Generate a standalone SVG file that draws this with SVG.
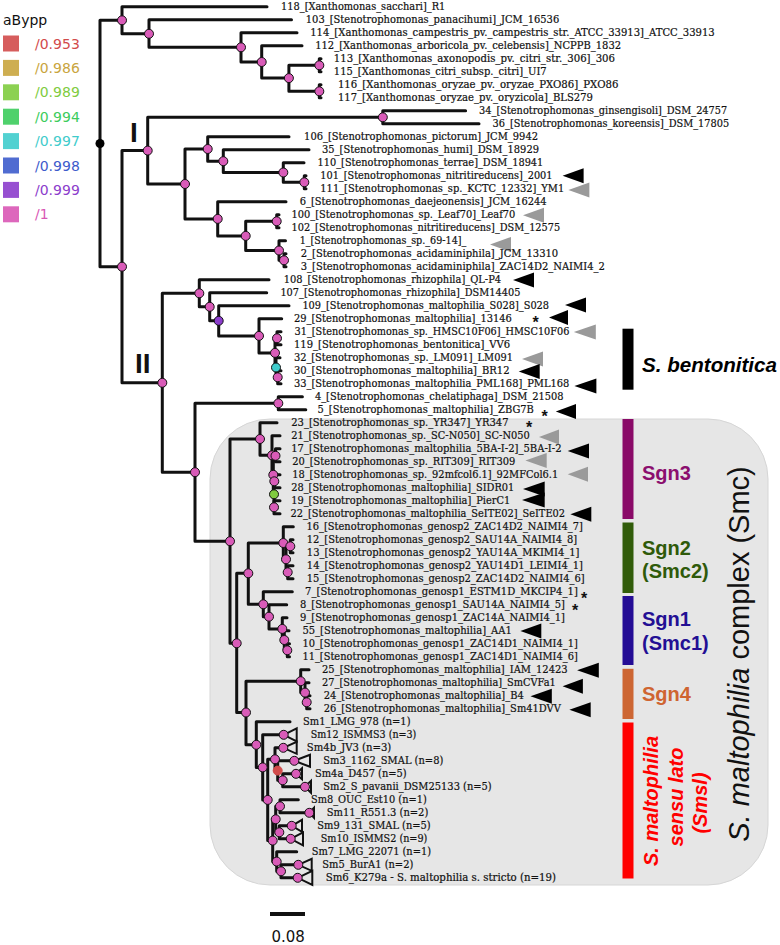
<svg xmlns="http://www.w3.org/2000/svg" width="780" height="945" viewBox="0 0 780 945">
<style>
.br{fill:none;stroke:#111;stroke-width:3;stroke-linejoin:round;stroke-linecap:round}
.n{fill:#d95bb8;stroke:#111;stroke-width:1}
.lb{font-family:"DejaVu Serif",serif;font-size:10.3px;fill:#111;stroke:#111;stroke-width:0.2}
.ab{fill:#000}
.ag{fill:#9a9a9a}
.cl{fill:none;stroke:#111;stroke-width:2}
.st{font-family:"Liberation Sans",Arial,sans-serif;font-weight:bold;font-size:16px;text-anchor:middle;fill:#111}
.lg{font-family:"DejaVu Sans",sans-serif;font-size:14px}
.sg{font-family:"Liberation Sans",Arial,sans-serif;font-weight:bold;font-size:20px}
</style>
<rect width="780" height="945" fill="#fff"/>
<rect id="smc-box" x="210" y="419" width="558" height="466" rx="60" ry="60" fill="#e6e6e6" stroke="#d6d6d6" stroke-width="1"/>

<g id="legend">
<text class="lg" x="3" y="25" fill="#111">aBypp</text>
<rect x="3" y="35.5" width="16" height="16" fill="#d24b4b" fill-opacity="0.9"/><text class="lg" x="35" y="48.5" fill="#d24b4b">/0.953</text>
<rect x="3" y="59.9" width="16" height="16" fill="#c9a53e" fill-opacity="0.9"/><text class="lg" x="35" y="72.9" fill="#c9a53e">/0.986</text>
<rect x="3" y="84.3" width="16" height="16" fill="#80cc3f" fill-opacity="0.9"/><text class="lg" x="35" y="97.3" fill="#80cc3f">/0.989</text>
<rect x="3" y="108.7" width="16" height="16" fill="#3ccc5c" fill-opacity="0.9"/><text class="lg" x="35" y="121.7" fill="#3ccc5c">/0.994</text>
<rect x="3" y="133.1" width="16" height="16" fill="#3fcccc" fill-opacity="0.9"/><text class="lg" x="35" y="146.1" fill="#3fcccc">/0.997</text>
<rect x="3" y="157.5" width="16" height="16" fill="#3d5ccc" fill-opacity="0.9"/><text class="lg" x="35" y="170.5" fill="#3d5ccc">/0.998</text>
<rect x="3" y="181.9" width="16" height="16" fill="#8c3dcc" fill-opacity="0.9"/><text class="lg" x="35" y="194.9" fill="#8c3dcc">/0.999</text>
<rect x="3" y="206.3" width="16" height="16" fill="#d957b5" fill-opacity="0.9"/><text class="lg" x="35" y="219.3" fill="#d957b5">/1</text>
</g>

<g id="connectors">
<path class="br" d="M122 20.3H100V266.7H122"/>
<path class="br" d="M267 6.8H122V33.8H149"/>
<path class="br" d="M291.5 19.8H149V47.3H241"/>
<path class="br" d="M297 32.8H241V62H261.7"/>
<path class="br" d="M302 45.8H261.7V78.1H288.9"/>
<path class="br" d="M319.3 65.3H288.9V91.3H319.3"/>
<path class="br" d="M321 58.8H319.3V71.8H321"/>
<path class="br" d="M321 84.8H319.3V97.8H321"/>
<path class="br" d="M147.7 150.6H122V382.8H162.3"/>
<path class="br" d="M382.8 117.3H147.7V184H185"/>
<path class="br" d="M465.6 110.8H382.8V123.8H479"/>
<path class="br" d="M207.7 149H185V218.9H217.7"/>
<path class="br" d="M289 136.8H207.7V161.2H223.3"/>
<path class="br" d="M309 149.8H223.3V172.5H283.3"/>
<path class="br" d="M304 162.8H283.3V182.3H304.3"/>
<path class="br" d="M306 175.8H304.3V188.8H306"/>
<path class="br" d="M286 201.8H217.7V235.9H245.7"/>
<path class="br" d="M276.7 221.3H245.7V250.5H279"/>
<path class="br" d="M279 214.8H276.7V227.8H279"/>
<path class="br" d="M285.5 240.8H279V260.3H284"/>
<path class="br" d="M286 253.8H284V266.8H286"/>
<path class="br" d="M199.3 293.3H162.3V472.2H195"/>
<path class="br" d="M269 279.8H199.3V306.8H209.7"/>
<path class="br" d="M266.7 292.8H209.7V320.8H218.7"/>
<path class="br" d="M289 305.8H218.7V335.9H259"/>
<path class="br" d="M281.7 318.8H259V352.9H275"/>
<path class="br" d="M277 338.3H275V367.5H276"/>
<path class="br" d="M281 331.8H277V344.8H281"/>
<path class="br" d="M280 357.8H276V377.3H277.7"/>
<path class="br" d="M281 370.8H277.7V383.8H281"/>
<path class="br" d="M278.3 403.3H195V541.2H230"/>
<path class="br" d="M302.4 396.8H278.3V409.8H305.8"/>
<path class="br" d="M260 439H230V643.3H236.7"/>
<path class="br" d="M277 422.8H260V455.3H272"/>
<path class="br" d="M280 435.8H272V474.8H273.3"/>
<path class="br" d="M275.5 455.3H273.3V494.3H274"/>
<path class="br" d="M280 448.8H275.5V461.8H280"/>
<path class="br" d="M274.3 481.3H274V507.3"/>
<path class="br" d="M280 474.8H274.3V487.8H280"/>
<path class="br" d="M280 500.8H274V513.8H280"/>
<path class="br" d="M248.3 573.3H236.7V712.5H246"/>
<path class="br" d="M283.3 543H248.3V604.3H263.3"/>
<path class="br" d="M293.3 526.8H283.3V559.3H286"/>
<path class="br" d="M290.3 546.3H286V572.3H287.7"/>
<path class="br" d="M293 539.8H290.3V552.8H293"/>
<path class="br" d="M293 565.8H287.7V578.8H293"/>
<path class="br" d="M292.3 591.8H263.3V616.7H269"/>
<path class="br" d="M286.7 604.8H269V628.9H282.3"/>
<path class="br" d="M287 617.8H282.3V640H284.3"/>
<path class="br" d="M289 630.8H284.3V650.3H287.3"/>
<path class="br" d="M289.5 643.8H287.3V656.8H289.5"/>
<path class="br" d="M300.7 681.2H246V744.8H256.3"/>
<path class="br" d="M309 669.8H300.7V692.6H305"/>
<path class="br" d="M309 682.8H305V702.3H306.7"/>
<path class="br" d="M310 695.8H306.7V708.8H310"/>
<path class="br" d="M290 721.8H256.3V767.4H262.7"/>
<path class="br" d="M283.7 734.8H262.7V799.9H267.7"/>
<path class="br" d="M275 759.3H267.7V840.6H272.7"/>
<path class="br" d="M283.3 747.8H275V770.6H277.7"/>
<path class="br" d="M294.3 760.8H277.7V780.3H282.7"/>
<path class="br" d="M296 773.8H282.7V786.8H305"/>
<path class="br" d="M275.7 819.3H272.7V861.6H276.7"/>
<path class="br" d="M280 806.3H275.7V832.3H279.3"/>
<path class="br" d="M298.3 799.8H280V812.8H309.3"/>
<path class="br" d="M291.7 825.8H279.3V838.8H290.7"/>
<path class="br" d="M296.7 851.8H276.7V871.3H281"/>
<path class="br" d="M298.3 864.8H281V877.8H297.7"/>
<g id="collapsed">
<polygon class="cl" points="283.7,734.8 296.7,728.3 296.7,741.3"/>
<polygon class="cl" points="283.3,747.8 296.7,741.8 296.7,753.8"/>
<polygon class="cl" points="294.3,760.8 310,754.8 310,766.8"/>
<polygon class="cl" points="296,773.8 302,768.3 302,779.3"/>
<polygon class="cl" points="305,786.8 311,780.8 311,792.8"/>
<polygon class="cl" points="309.3,812.8 314,807.8 314,817.8"/>
<polygon class="cl" points="291.7,825.8 302,819.8 302,831.8"/>
<polygon class="cl" points="290.7,838.8 303,832.3 303,845.3"/>
<polygon class="cl" points="298.3,864.8 311.7,858.8 311.7,870.8"/>
<polygon class="cl" points="297.7,877.8 312.3,870.8 312.3,884.8"/>
</g>
</g>

<g id="nodes">
<circle cx="100" cy="143.5" r="4.5" fill="#000"/>
<g class="n">
<circle cx="122" cy="20.3" r="4.5"/><circle cx="149" cy="33.8" r="4.5"/><circle cx="241" cy="47.3" r="4.5"/><circle cx="261.7" cy="62" r="4.5"/><circle cx="288.9" cy="78.1" r="4.5"/><circle cx="319.3" cy="65.3" r="4.5"/><circle cx="319.3" cy="91.3" r="4.5"/>
<circle cx="122" cy="266.7" r="4.5"/><circle cx="147.7" cy="150.6" r="4.5"/><circle cx="382.8" cy="117.3" r="4.5"/><circle cx="185" cy="184" r="4.5"/><circle cx="207.7" cy="149" r="4.5"/><circle cx="223.3" cy="161.2" r="4.5"/><circle cx="283.3" cy="172.5" r="4.5"/><circle cx="304.3" cy="182.3" r="4.5"/><circle cx="217.7" cy="218.9" r="4.5"/><circle cx="245.7" cy="235.9" r="4.5"/><circle cx="276.7" cy="221.3" r="4.5"/><circle cx="279" cy="250.5" r="4.5"/><circle cx="284" cy="260.3" r="4.5"/>
<circle cx="162.3" cy="382.8" r="4.5"/><circle cx="199.3" cy="293.3" r="4.5"/><circle cx="209.7" cy="306.8" r="4.5"/><circle cx="259" cy="335.9" r="4.5"/><circle cx="275" cy="352.9" r="4.5"/><circle cx="277" cy="338.3" r="4.5"/><circle cx="277.7" cy="377.3" r="4.5"/>
<circle cx="195" cy="472.2" r="4.5"/><circle cx="278.3" cy="403.3" r="4.5"/><circle cx="230" cy="541.2" r="4.5"/><circle cx="260" cy="439" r="4.5"/><circle cx="272" cy="455.3" r="4.5"/><circle cx="275.5" cy="455.8" r="4.5"/><circle cx="273.3" cy="474.8" r="4.5"/><circle cx="274.3" cy="481.3" r="4.5"/><circle cx="274" cy="507.3" r="4.5"/>
<circle cx="236.7" cy="643.3" r="4.5"/><circle cx="248.3" cy="573.3" r="4.5"/><circle cx="283.3" cy="543" r="4.5"/><circle cx="286" cy="559.3" r="4.5"/><circle cx="290.3" cy="546.3" r="4.5"/><circle cx="287.7" cy="572.3" r="4.5"/><circle cx="263.3" cy="604.3" r="4.5"/><circle cx="269" cy="616.7" r="4.5"/><circle cx="282.3" cy="628.9" r="4.5"/><circle cx="284.3" cy="640" r="4.5"/><circle cx="287.3" cy="650.3" r="4.5"/>
<circle cx="246" cy="712.5" r="4.5"/><circle cx="300.7" cy="681.2" r="4.5"/><circle cx="305" cy="692.6" r="4.5"/><circle cx="306.7" cy="702.3" r="4.5"/><circle cx="256.3" cy="744.8" r="4.5"/><circle cx="262.7" cy="767.4" r="4.5"/><circle cx="267.7" cy="799.9" r="4.5"/><circle cx="275" cy="759.3" r="4.5"/><circle cx="282.7" cy="780.3" r="4.5"/><circle cx="272.7" cy="840.6" r="4.5"/><circle cx="275.7" cy="819.3" r="4.5"/><circle cx="280" cy="806.3" r="4.5"/><circle cx="279.3" cy="832.3" r="4.5"/><circle cx="276.7" cy="861.6" r="4.5"/><circle cx="281" cy="871.3" r="4.5"/>
<circle cx="283.7" cy="734.8" r="4.5"/><circle cx="283.3" cy="747.8" r="4.5"/><circle cx="294.3" cy="760.8" r="4.5"/><circle cx="296" cy="773.8" r="4.5"/><circle cx="305" cy="786.8" r="4.5"/><circle cx="309.3" cy="812.8" r="4.5"/><circle cx="291.7" cy="825.8" r="4.5"/><circle cx="290.7" cy="838.8" r="4.5"/><circle cx="298.3" cy="864.8" r="4.5"/><circle cx="297.7" cy="877.8" r="4.5"/>
</g>
<circle cx="218.7" cy="320.8" r="4.5" fill="#8c3dcc" stroke="#111" stroke-width="1"/>
<circle cx="276" cy="367.5" r="4.5" fill="#3fcccc" stroke="#111" stroke-width="1"/>
<circle cx="274" cy="494.3" r="4.5" fill="#80cc3f" stroke="#111" stroke-width="1"/>
<circle cx="277.7" cy="770.6" r="4.5" fill="#d24b4b" stroke="#d24b4b" stroke-width="1"/>
</g>

<g id="clade-labels" font-family="Liberation Sans,Arial,sans-serif" font-weight="bold" font-size="28" fill="#111">
<text x="130" y="141.7">I</text>
<text x="135" y="372.7">II</text>
</g>

<g id="leaves">
<g id="leaf-118"><text class="lb" x="281.1" y="10.4" textLength="164.2" lengthAdjust="spacingAndGlyphs">118_[Xanthomonas_sacchari]_R1</text></g>
<g id="leaf-103"><text class="lb" x="305.8" y="23.4" textLength="253.4" lengthAdjust="spacingAndGlyphs">103_[Stenotrophomonas_panacihumi]_JCM_16536</text></g>
<g id="leaf-114"><text class="lb" x="310.2" y="36.4" textLength="404.5" lengthAdjust="spacingAndGlyphs">114_[Xanthomonas_campestris_pv._campestris_str._ATCC_33913]_ATCC_33913</text></g>
<g id="leaf-112"><text class="lb" x="315.2" y="49.4" textLength="305.9" lengthAdjust="spacingAndGlyphs">112_[Xanthomonas_arboricola_pv._celebensis]_NCPPB_1832</text></g>
<g id="leaf-113"><text class="lb" x="333.8" y="62.4" textLength="281.2" lengthAdjust="spacingAndGlyphs">113_[Xanthomonas_axonopodis_pv._citri_str._306]_306</text></g>
<g id="leaf-115"><text class="lb" x="333.8" y="75.4" textLength="212.9" lengthAdjust="spacingAndGlyphs">115_[Xanthomonas_citri_subsp._citri]_UI7</text></g>
<g id="leaf-116"><text class="lb" x="337.9" y="88.4" textLength="280.5" lengthAdjust="spacingAndGlyphs">116_[Xanthomonas_oryzae_pv._oryzae_PXO86]_PXO86</text></g>
<g id="leaf-117"><text class="lb" x="337.9" y="101.4" textLength="255.1" lengthAdjust="spacingAndGlyphs">117_[Xanthomonas_oryzae_pv._oryzicola]_BLS279</text></g>
<g id="leaf-34"><text class="lb" x="479.1" y="114.4" textLength="248.1" lengthAdjust="spacingAndGlyphs">34_[Stenotrophomonas_ginsengisoli]_DSM_24757</text></g>
<g id="leaf-36"><text class="lb" x="492.6" y="127.4" textLength="236.6" lengthAdjust="spacingAndGlyphs">36_[Stenotrophomonas_koreensis]_DSM_17805</text></g>
<g id="leaf-106"><text class="lb" x="304.1" y="140.4" textLength="233.9" lengthAdjust="spacingAndGlyphs">106_[Stenotrophomonas_pictorum]_JCM_9942</text></g>
<g id="leaf-35"><text class="lb" x="322" y="153.4" textLength="217" lengthAdjust="spacingAndGlyphs">35_[Stenotrophomonas_humi]_DSM_18929</text></g>
<g id="leaf-110"><text class="lb" x="317.6" y="166.4" textLength="225.7" lengthAdjust="spacingAndGlyphs">110_[Stenotrophomonas_terrae]_DSM_18941</text></g>
<g id="leaf-101"><text class="lb" x="320.3" y="179.4" textLength="232.2" lengthAdjust="spacingAndGlyphs">101_[Stenotrophomonas_nitritireducens]_2001</text><polygon class="ab" points="562.6,175.8 583.6,168.3 583.6,183.3"/></g>
<g id="leaf-111"><text class="lb" x="320.3" y="192.4" textLength="244" lengthAdjust="spacingAndGlyphs">111_[Stenotrophomonas_sp._KCTC_12332]_YM1</text><polygon class="ag" points="568.4,190 589.4,182.5 589.4,197.5"/></g>
<g id="leaf-6"><text class="lb" x="299.7" y="205.4" textLength="247" lengthAdjust="spacingAndGlyphs">6_[Stenotrophomonas_daejeonensis]_JCM_16244</text></g>
<g id="leaf-100"><text class="lb" x="291.6" y="218.4" textLength="223.7" lengthAdjust="spacingAndGlyphs">100_[Stenotrophomonas_sp._Leaf70]_Leaf70</text><polygon class="ag" points="523,215.2 544,207.7 544,222.7"/></g>
<g id="leaf-102"><text class="lb" x="291.6" y="231.4" textLength="268.6" lengthAdjust="spacingAndGlyphs">102_[Stenotrophomonas_nitritireducens]_DSM_12575</text></g>
<g id="leaf-1"><text class="lb" x="299.7" y="244.4" textLength="166.6" lengthAdjust="spacingAndGlyphs">1_[Stenotrophomonas_sp._69-14]_</text><polygon class="ag" points="490,244.5 511,237 511,252"/></g>
<g id="leaf-2"><text class="lb" x="300.7" y="257.4" textLength="257.5" lengthAdjust="spacingAndGlyphs">2_[Stenotrophomonas_acidaminiphila]_JCM_13310</text></g>
<g id="leaf-3"><text class="lb" x="300.7" y="270.4" textLength="304.1" lengthAdjust="spacingAndGlyphs">3_[Stenotrophomonas_acidaminiphila]_ZAC14D2_NAIMI4_2</text></g>
<g id="leaf-108"><text class="lb" x="283.8" y="283.4" textLength="217.3" lengthAdjust="spacingAndGlyphs">108_[Stenotrophomonas_rhizophila]_QL-P4</text><polygon class="ab" points="513,280 534,272.5 534,287.5"/></g>
<g id="leaf-107"><text class="lb" x="280.4" y="296.4" textLength="240" lengthAdjust="spacingAndGlyphs">107_[Stenotrophomonas_rhizophila]_DSM14405</text></g>
<g id="leaf-109"><text class="lb" x="302.4" y="309.4" textLength="246.7" lengthAdjust="spacingAndGlyphs">109_[Stenotrophomonas_maltophilia_S028]_S028</text><polygon class="ab" points="565,305 586,297.5 586,312.5"/></g>
<g id="leaf-29"><text class="lb" x="293.9" y="322.4" textLength="218" lengthAdjust="spacingAndGlyphs">29_[Stenotrophomonas_maltophilia]_13146</text><text class="st" x="535.5" y="327.5">*</text><polygon class="ab" points="549,317.5 568,310 568,325"/></g>
<g id="leaf-31"><text class="lb" x="294.6" y="335.4" textLength="274.8" lengthAdjust="spacingAndGlyphs">31_[Stenotrophomonas_sp._HMSC10F06]_HMSC10F06</text><polygon class="ag" points="573.8,332 595.8,324.5 595.8,339.5"/></g>
<g id="leaf-119"><text class="lb" x="293.9" y="348.4" textLength="216.3" lengthAdjust="spacingAndGlyphs">119_[Stenotrophomonas_bentonitica]_VV6</text></g>
<g id="leaf-32"><text class="lb" x="293.9" y="361.4" textLength="219" lengthAdjust="spacingAndGlyphs">32_[Stenotrophomonas_sp._LM091]_LM091</text><polygon class="ag" points="522,359 543,351.5 543,366.5"/></g>
<g id="leaf-30"><text class="lb" x="293.9" y="374.4" textLength="215.6" lengthAdjust="spacingAndGlyphs">30_[Stenotrophomonas_maltophilia]_BR12</text><polygon class="ab" points="518.7,371.6 539.7,364.1 539.7,379.1"/></g>
<g id="leaf-33"><text class="lb" x="293.9" y="387.4" textLength="275.5" lengthAdjust="spacingAndGlyphs">33_[Stenotrophomonas_maltophilia_PML168]_PML168</text><polygon class="ab" points="574.4,386 596.4,378.5 596.4,393.5"/></g>
<g id="leaf-4"><text class="lb" x="314.9" y="400.4" textLength="248.7" lengthAdjust="spacingAndGlyphs">4_[Stenotrophomonas_chelatiphaga]_DSM_21508</text></g>
<g id="leaf-5"><text class="lb" x="317.6" y="413.4" textLength="216.3" lengthAdjust="spacingAndGlyphs">5_[Stenotrophomonas_maltophilia]_ZBG7B</text><text class="st" x="544.5" y="422">*</text><polygon class="ab" points="555.8,411.5 576,404 576,419"/></g>
<g id="leaf-23"><text class="lb" x="291.2" y="426.4" textLength="217.3" lengthAdjust="spacingAndGlyphs">23_[Stenotrophomonas_sp._YR347]_YR347</text><text class="st" x="529" y="432.5">*</text></g>
<g id="leaf-21"><text class="lb" x="291.2" y="439.4" textLength="238.6" lengthAdjust="spacingAndGlyphs">21_[Stenotrophomonas_sp._SC-N050]_SC-N050</text><polygon class="ag" points="539,437 559,429.5 559,444.5"/></g>
<g id="leaf-17"><text class="lb" x="291.2" y="452.4" textLength="270.4" lengthAdjust="spacingAndGlyphs">17_[Stenotrophomonas_maltophilia_5BA-I-2]_5BA-I-2</text><polygon class="ab" points="567.7,451 589,443.5 589,458.5"/></g>
<g id="leaf-20"><text class="lb" x="292.2" y="465.4" textLength="223.1" lengthAdjust="spacingAndGlyphs">20_[Stenotrophomonas_sp._RIT309]_RIT309</text><polygon class="ag" points="525.4,460.5 546.7,453 546.7,468"/></g>
<g id="leaf-18"><text class="lb" x="292.2" y="478.4" textLength="266" lengthAdjust="spacingAndGlyphs">18_[Stenotrophomonas_sp._92mfcol6.1]_92MFCol6.1</text><polygon class="ag" points="567.7,474.3 588,466.8 588,481.8"/></g>
<g id="leaf-28"><text class="lb" x="291.2" y="491.4" textLength="223.1" lengthAdjust="spacingAndGlyphs">28_[Stenotrophomonas_maltophilia]_SIDR01</text><polygon class="ab" points="523,489 544.7,481.5 544.7,496.5"/></g>
<g id="leaf-19"><text class="lb" x="291.2" y="504.4" textLength="219" lengthAdjust="spacingAndGlyphs">19_[Stenotrophomonas_maltophilia]_PierC1</text><polygon class="ab" points="522,500 544.7,492.5 544.7,507.5"/></g>
<g id="leaf-22"><text class="lb" x="290.6" y="517.4" textLength="274.4" lengthAdjust="spacingAndGlyphs">22_[Stenotrophomonas_maltophilia_SeITE02]_SeITE02</text><polygon class="ab" points="570.4,514.2 591.3,506.7 591.3,521.7"/></g>
<g id="leaf-16"><text class="lb" x="306.4" y="530.4" textLength="276.5" lengthAdjust="spacingAndGlyphs">16_[Stenotrophomonas_genosp2_ZAC14D2_NAIMI4_7]</text></g>
<g id="leaf-12"><text class="lb" x="306.8" y="543.4" textLength="270.3" lengthAdjust="spacingAndGlyphs">12_[Stenotrophomonas_genosp2_SAU14A_NAIMI4_8]</text></g>
<g id="leaf-13"><text class="lb" x="306.8" y="556.4" textLength="272.7" lengthAdjust="spacingAndGlyphs">13_[Stenotrophomonas_genosp2_YAU14A_MKIMI4_1]</text></g>
<g id="leaf-14"><text class="lb" x="306.8" y="569.4" textLength="276.1" lengthAdjust="spacingAndGlyphs">14_[Stenotrophomonas_genosp2_YAU14D1_LEIMI4_1]</text></g>
<g id="leaf-15"><text class="lb" x="306.8" y="582.4" textLength="277.8" lengthAdjust="spacingAndGlyphs">15_[Stenotrophomonas_genosp2_ZAC14D2_NAIMI4_6]</text></g>
<g id="leaf-7"><text class="lb" x="305.1" y="595.4" textLength="272.7" lengthAdjust="spacingAndGlyphs">7_[Stenotrophomonas_genosp1_ESTM1D_MKCIP4_1]</text><text class="st" x="584" y="603.5">*</text></g>
<g id="leaf-8"><text class="lb" x="300" y="608.4" textLength="265" lengthAdjust="spacingAndGlyphs">8_[Stenotrophomonas_genosp1_SAU14A_NAIMI4_5]</text><text class="st" x="575" y="615.5">*</text></g>
<g id="leaf-9"><text class="lb" x="300" y="621.4" textLength="265" lengthAdjust="spacingAndGlyphs">9_[Stenotrophomonas_genosp1_ZAC14A_NAIMI4_1]</text></g>
<g id="leaf-55"><text class="lb" x="302.4" y="634.4" textLength="209.5" lengthAdjust="spacingAndGlyphs">55_[Stenotrophomonas_maltophilia]_AA1</text><polygon class="ab" points="520.4,631.1 541.3,623.6 541.3,638.6"/></g>
<g id="leaf-10"><text class="lb" x="302.4" y="647.4" textLength="275.4" lengthAdjust="spacingAndGlyphs">10_[Stenotrophomonas_genosp1_ZAC14D1_NAIMI4_1]</text></g>
<g id="leaf-11"><text class="lb" x="302.4" y="660.4" textLength="275.4" lengthAdjust="spacingAndGlyphs">11_[Stenotrophomonas_genosp1_ZAC14D1_NAIMI4_6]</text></g>
<g id="leaf-25"><text class="lb" x="322" y="673.4" textLength="245.7" lengthAdjust="spacingAndGlyphs">25_[Stenotrophomonas_maltophilia]_IAM_12423</text><polygon class="ab" points="577.1,670.3 598.8,662.8 598.8,677.8"/></g>
<g id="leaf-27"><text class="lb" x="322" y="686.4" textLength="233.8" lengthAdjust="spacingAndGlyphs">27_[Stenotrophomonas_maltophilia]_SmCVFa1</text><polygon class="ab" points="562.6,686.2 582.9,678.7 582.9,693.7"/></g>
<g id="leaf-24"><text class="lb" x="323.7" y="699.4" textLength="200" lengthAdjust="spacingAndGlyphs">24_[Stenotrophomonas_maltophilia]_B4</text><polygon class="ab" points="530.5,696.3 551.8,688.8 551.8,703.8"/></g>
<g id="leaf-26"><text class="lb" x="323.7" y="712.4" textLength="237.2" lengthAdjust="spacingAndGlyphs">26_[Stenotrophomonas_maltophilia]_Sm41DVV</text><polygon class="ab" points="569.4,709.8 590.7,702.3 590.7,717.3"/></g>
<g id="leaf-Sm1"><text class="lb" x="303.1" y="725.4" textLength="107.4" lengthAdjust="spacingAndGlyphs">Sm1_LMG_978 (n=1)</text></g>
<g id="leaf-Sm12"><text class="lb" x="310.8" y="738.4" textLength="105.5" lengthAdjust="spacingAndGlyphs">Sm12_ISMMS3 (n=3)</text></g>
<g id="leaf-Sm4b"><text class="lb" x="306.8" y="751.4" textLength="84.5" lengthAdjust="spacingAndGlyphs">Sm4b_JV3 (n=3)</text></g>
<g id="leaf-Sm3"><text class="lb" x="323.3" y="764.4" textLength="120" lengthAdjust="spacingAndGlyphs">Sm3_1162_SMAL (n=8)</text></g>
<g id="leaf-Sm4a"><text class="lb" x="315" y="777.4" textLength="91.7" lengthAdjust="spacingAndGlyphs">Sm4a_D457 (n=5)</text></g>
<g id="leaf-Sm2"><text class="lb" x="323.3" y="790.4" textLength="168.4" lengthAdjust="spacingAndGlyphs">Sm2_S_pavanii_DSM25133 (n=5)</text></g>
<g id="leaf-Sm8"><text class="lb" x="311" y="803.4" textLength="115.7" lengthAdjust="spacingAndGlyphs">Sm8_OUC_Est10 (n=1)</text></g>
<g id="leaf-Sm11"><text class="lb" x="326.7" y="816.4" textLength="101.6" lengthAdjust="spacingAndGlyphs">Sm11_R551.3 (n=2)</text></g>
<g id="leaf-Sm9"><text class="lb" x="317.3" y="829.4" textLength="113.4" lengthAdjust="spacingAndGlyphs">Sm9_131_SMAL (n=5)</text></g>
<g id="leaf-Sm10"><text class="lb" x="320.7" y="842.4" textLength="106.6" lengthAdjust="spacingAndGlyphs">Sm10_ISMMS2 (n=9)</text></g>
<g id="leaf-Sm7"><text class="lb" x="311.7" y="855.4" textLength="119.3" lengthAdjust="spacingAndGlyphs">Sm7_LMG_22071 (n=1)</text></g>
<g id="leaf-Sm5"><text class="lb" x="322.3" y="868.4" textLength="91" lengthAdjust="spacingAndGlyphs">Sm5_BurA1 (n=2)</text></g>
<g id="leaf-Sm6"><text class="lb" x="325.7" y="881.4" textLength="230.3" lengthAdjust="spacingAndGlyphs">Sm6_K279a - S. maltophilia s. stricto (n=19)</text></g>
</g>

<g id="groups">
<g id="g-bentonitica"><rect x="622.5" y="328.7" width="11" height="61" fill="#000"/><text x="642" y="371.6" font-family="Liberation Sans,Arial,sans-serif" font-weight="bold" font-style="italic" font-size="21" textLength="135" lengthAdjust="spacingAndGlyphs" fill="#000">S. bentonitica</text></g>
<g id="g-sgn3"><rect x="622.5" y="419" width="11" height="100" fill="#8a0a68"/><text class="sg" x="642" y="479.7" fill="#8b0e6e">Sgn3</text></g>
<g id="g-sgn2"><rect x="622.5" y="522.5" width="11" height="70.5" fill="#315c0a"/><text class="sg" x="642" y="554.8" fill="#2f5a0a">Sgn2</text><text class="sg" x="642" y="577.5" fill="#2f5a0a">(Smc2)</text></g>
<g id="g-sgn1"><rect x="622.5" y="596" width="11" height="69" fill="#240c95"/><text class="sg" x="642" y="626.4" fill="#230f94">Sgn1</text><text class="sg" x="642" y="650" fill="#230f94">(Smc1)</text></g>
<g id="g-sgn4"><rect x="622.5" y="668.8" width="11" height="50.2" fill="#cd6633"/><text class="sg" x="642" y="701.4" fill="#cf6431">Sgn4</text></g>
<g id="g-smsl" font-family="Liberation Sans,Arial,sans-serif" font-style="italic" font-weight="bold" font-size="20" fill="#ff0000" text-anchor="middle">
<rect x="622.5" y="722.5" width="11" height="156" fill="#ff0000"/>
<text transform="translate(657.5,801) rotate(-90)">S. maltophilia</text>
<text transform="translate(683,797) rotate(-90)">sensu lato</text>
<text transform="translate(707,803) rotate(-90)">(Smsl)</text>
</g>
<text id="smc-title" transform="translate(749,654) rotate(-90)" font-family="Liberation Sans,Arial,sans-serif" font-size="29" text-anchor="middle" fill="#111"><tspan font-style="italic">S. maltophilia</tspan> complex (Smc)</text>
</g>

<g id="scale">
<line x1="270" y1="914" x2="305" y2="914" stroke="#111" stroke-width="4"/>
<text x="271.5" y="941.7" font-family="DejaVu Sans,sans-serif" font-size="15" fill="#111">0.08</text>
</g>
</svg>
